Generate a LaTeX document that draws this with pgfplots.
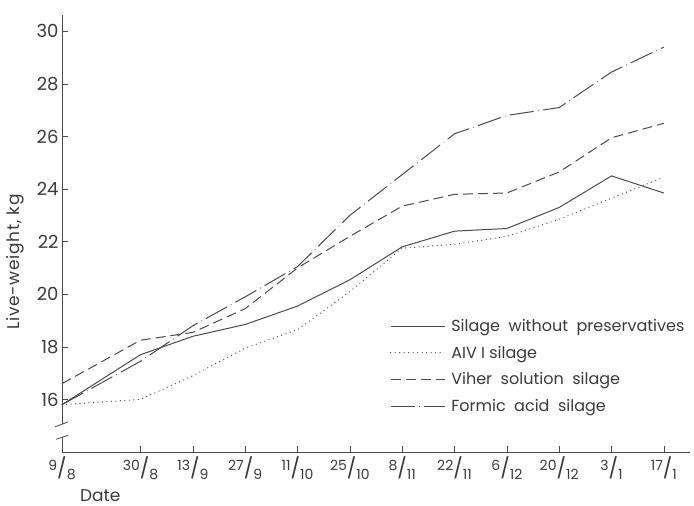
\documentclass[border=0pt]{standalone}
\usepackage{fontspec}
\setmainfont{Poppins}
\usepackage{pgfplots}
\usepackage{pgfplotstable}
\pgfplotsset{compat=1.18}

\definecolor{ink}{HTML}{4A4A4A}
\definecolor{txt}{HTML}{3A3A3A}

% date written as a slanted fraction, day over month
\newcommand{\dfr}[2]{{\fontsize{14}{14}\selectfont\raisebox{0.6ex}{#1}{\fontsize{20}{20}\selectfont/}\raisebox{-0.5ex}{#2}}}

% live-weight (kg); day = days after 9 August
\pgfplotstableread{
day  plain  aiv    viher  formic
0    15.80  15.80  16.60  15.80
21   17.70  16.00  18.25  17.45
35   18.40  16.90  18.55  18.80
49   18.85  17.95  19.45  19.90
63   19.55  18.65  21.00  21.05
77   20.55  20.10  22.20  23.00
91   21.80  21.75  23.35  24.55
105  22.40  21.90  23.80  26.10
119  22.50  22.20  23.85  26.80
133  23.30  22.85  24.65  27.10
147  24.50  23.65  25.95  28.45
161  23.85  24.45  26.50  29.40
}\weights

\begin{document}
\begin{tikzpicture}
\begin{axis}[
  scale only axis, width=628pt, height=437pt,
  xmin=0, xmax=168, ymin=14, ymax=30.62,
  clip=false,
  axis lines=left,
  axis line style={-, color=ink, line width=0.8pt},
  y axis line style={draw=none},
  tick align=inside, major tick length=6pt,
  tick style={color=ink, line width=0.6pt},
  xtick={0,21,35,49,63,77,91,105,119,133,147,161},
  xticklabels={\dfr{9}{8},\dfr{30}{8},\dfr{13}{9},\dfr{27}{9},\dfr{11}{10},\dfr{25}{10},
               \dfr{8}{11},\dfr{22}{11},\dfr{6}{12},\dfr{20}{12},\dfr{3}{1},\dfr{17}{1}},
  ytick={16,18,...,30},
  /pgf/number format/assume math mode=true,
  tick label style={font=\fontsize{18}{18}\selectfont, color=txt},
  xticklabel style={yshift=-1pt},
  xlabel={Date},
  xlabel style={at={(axis description cs:0.061,-0.1)}, anchor=center,
                font=\fontsize{17}{17}\selectfont, color=txt},
  ylabel={Live-weight, kg},
  ylabel style={at={(axis description cs:-0.074,0.435)}, anchor=center,
                font=\fontsize{17}{17}\selectfont\addfontfeatures{LetterSpace=4}, color=txt},
  legend style={at={(axis description cs:0.522,0.309)}, anchor=north west,
                draw=none, fill=none, inner sep=0pt, row sep=9pt, column sep=4pt,
                font=\fontsize{16}{16}\selectfont, text=txt,
                nodes={inner sep=2pt}},
  legend cell align=left,
  legend image code/.code={\draw[#1] (0pt,0pt) -- (54pt,0pt);},
]
\addplot[ink, line width=1pt] table[x=day, y=plain] {\weights};
\addlegendentry{Silage\ \ without\ \ preservatives}
\addplot[ink, line width=1.3pt, line cap=round, dash pattern=on 0pt off 4.5pt] table[x=day, y=aiv] {\weights};
\addlegendentry{AIV I silage}
\addplot[ink, line width=1pt, dash pattern=on 10pt off 5pt] table[x=day, y=viher] {\weights};
\addlegendentry{Viher\ \ solution\ \ silage}
\addplot[ink, line width=1pt, dash pattern=on 24pt off 4.5pt on 0.6pt off 4.5pt] table[x=day, y=formic] {\weights};
\addlegendentry{Formic\ \ acid\ \ silage}

% broken y axis
\draw[ink, line width=0.8pt] (axis cs:0,30.62) -- (axis cs:0,15.08);
\draw[ink, line width=0.8pt] (axis cs:0,14.56) -- (axis cs:0,14);
\draw[ink, line width=0.8pt] ([xshift=-7pt,yshift=-2.5pt]axis cs:0,15.05) -- ([xshift=6pt,yshift=2.5pt]axis cs:0,15.05);
\draw[ink, line width=0.8pt] ([xshift=-6pt,yshift=-2pt]axis cs:0,14.56) -- ([xshift=6pt,yshift=2pt]axis cs:0,14.56);

% page frame
\path (rel axis cs:0,0) ++(-62pt,-54pt) rectangle ++(694pt,506pt);
\end{axis}
\end{tikzpicture}
\end{document}
